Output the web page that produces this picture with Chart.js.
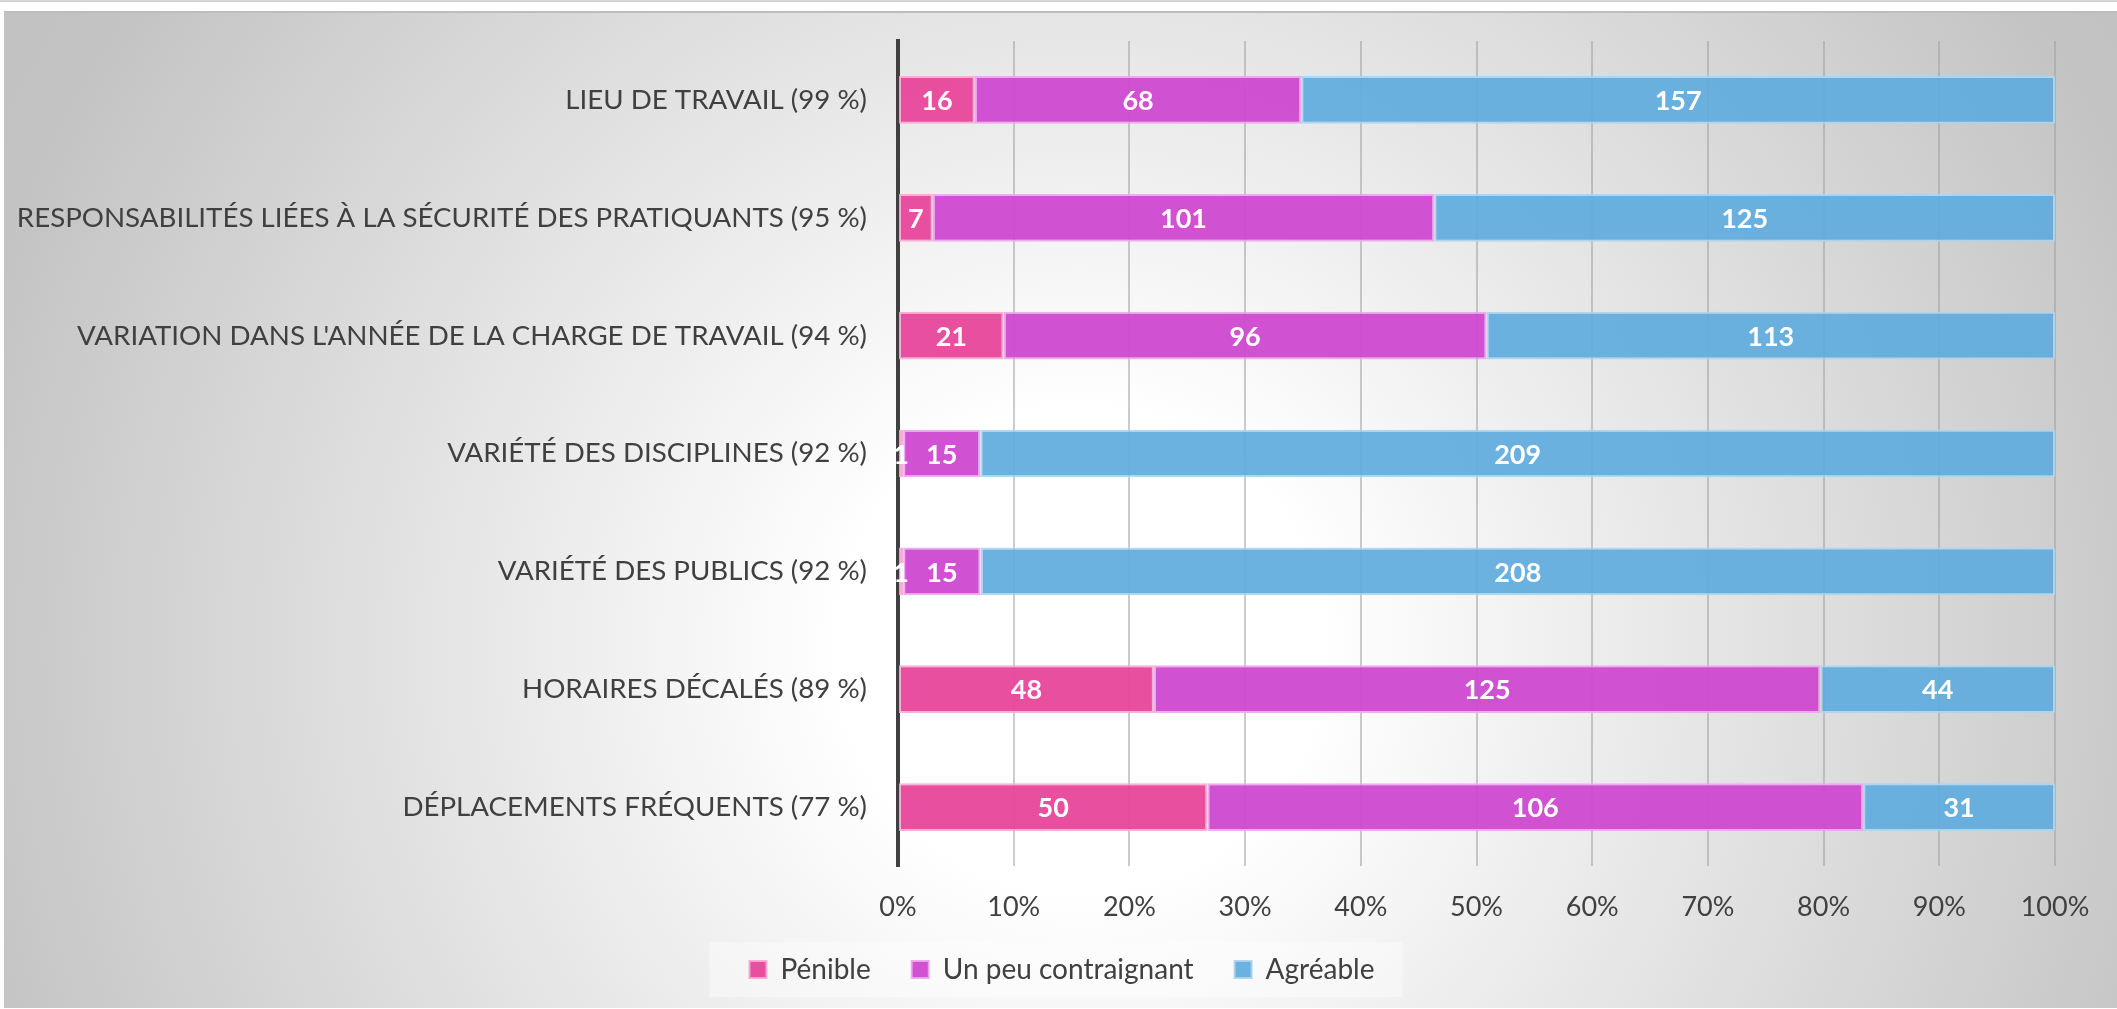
<!DOCTYPE html>
<html>
<head>
<meta charset="utf-8">
<script src="https://cdn.jsdelivr.net/npm/chart.js@4.4.0/dist/chart.umd.min.js"></script>
<style>
  html, body { margin: 0; padding: 0; background: #fff; overflow: hidden; }
</style>
</head>
<body>
<canvas id="chart" width="2117" height="1009"></canvas>
<script>
const CATEGORIES = [
  'LIEU DE TRAVAIL (99 %)',
  'RESPONSABILITÉS LIÉES À LA SÉCURITÉ DES PRATIQUANTS (95 %)',
  "VARIATION DANS L'ANNÉE DE LA CHARGE DE TRAVAIL (94 %)",
  'VARIÉTÉ DES DISCIPLINES (92 %)',
  'VARIÉTÉ DES PUBLICS (92 %)',
  'HORAIRES DÉCALÉS (89 %)',
  'DÉPLACEMENTS FRÉQUENTS (77 %)'
];
const SERIES_NAMES = ['Pénible', 'Un peu contraignant', 'Agréable'];
const PENIBLE      = [16, 7, 21, 1, 1, 48, 50];
const CONTRAIGNANT = [68, 101, 96, 15, 15, 125, 106];
const AGREABLE     = [157, 125, 113, 209, 208, 44, 31];

const FILLS   = ['rgba(232,72,155,0.96)', 'rgba(206,74,208,0.96)', 'rgba(96,172,222,0.93)'];
const BORDERS = ['rgba(246,170,210,0.9)', 'rgba(234,166,236,0.9)', 'rgba(172,212,240,0.9)'];
const FONT = 'Lato';
const TEXT = '#404040';

// 100 % stack: each segment as share of the row total
const totals = CATEGORIES.map((_, i) => PENIBLE[i] + CONTRAIGNANT[i] + AGREABLE[i]);
const pct = arr => arr.map((v, i) => v / totals[i] * 100);

const datasets = [PENIBLE, CONTRAIGNANT, AGREABLE].map((counts, k) => ({
  label: SERIES_NAMES[k],
  data: pct(counts),
  counts,
  backgroundColor: FILLS[k],
  borderColor: BORDERS[k],
  borderWidth: 2,
  borderSkipped: false,
  categoryPercentage: 1,
  barPercentage: 0.405
}));

const backdrop = {
  id: 'backdrop',
  beforeDraw(chart) {
    const { ctx, width: W, height: H } = chart;
    ctx.save();
    ctx.fillStyle = '#fff';
    ctx.fillRect(0, 0, W, H);
    ctx.fillStyle = '#d4d4d4';
    ctx.fillRect(0, 0, W, 2);
    const g = ctx.createRadialGradient(1080, 650, 0, 1080, 650, 1200);
    g.addColorStop(0, '#ffffff');
    g.addColorStop(0.2, '#ffffff');
    g.addColorStop(0.95, '#c4c4c4');
    g.addColorStop(1, '#c2c2c2');
    ctx.fillStyle = g;
    ctx.fillRect(4, 11, W - 4, 997);
    ctx.fillStyle = '#bdbdbd';
    ctx.fillRect(4, 11, W - 4, 2);
    // soft panel behind the legend
    const hb = chart.legend && chart.legend.legendHitBoxes;
    if (hb && hb.length) {
      const x0 = hb[0].left - 40;
      const x1 = hb[hb.length - 1].left + hb[hb.length - 1].width + 28;
      ctx.fillStyle = 'rgba(255,255,255,0.4)';
      ctx.fillRect(x0, 942, x1 - x0, 55);
    }
    ctx.restore();
  }
};

const legendPlace = {
  id: 'legendPlace',
  afterLayout(chart) {
    const lg = chart.legend;
    const h = lg.height;
    lg.top = 914.5;
    lg.bottom = lg.top + h;
    lg.left = 3;
    lg.right = 2121;
  }
};

const countLabels = {
  id: 'countLabels',
  afterDatasetsDraw(chart) {
    const ctx = chart.ctx;
    ctx.save();
    ctx.font = `bold 27px ${FONT}`;
    ctx.fillStyle = '#ffffff';
    ctx.textAlign = 'center';
    ctx.textBaseline = 'middle';
    chart.data.datasets.forEach((ds, di) => {
      chart.getDatasetMeta(di).data.forEach((bar, i) => {
        ctx.fillText(String(ds.counts[i]), (bar.x + bar.base) / 2, bar.y + 1.5);
      });
    });
    ctx.restore();
  }
};

new Chart(document.getElementById('chart'), {
  type: 'bar',
  data: { labels: CATEGORIES, datasets },
  plugins: [backdrop, legendPlace, countLabels],
  options: {
    indexAxis: 'y',
    responsive: false,
    animation: false,
    layout: { padding: { top: 41, right: 62, left: 0, bottom: 0 } },
    plugins: {
      tooltip: { enabled: false },
      legend: {
        position: 'bottom',
        labels: {
          font: { family: FONT, size: 28 },
          color: TEXT,
          boxWidth: 17,
          boxHeight: 17,
          padding: 41
        }
      }
    },
    scales: {
      x: {
        stacked: true,
        min: 0,
        max: 100,
        ticks: {
          stepSize: 10,
          callback: v => v + '%',
          font: { family: FONT, size: 27 },
          color: TEXT,
          padding: 25
        },
        grid: { color: 'rgba(160,160,160,0.55)', lineWidth: 2, drawTicks: false },
        border: { display: false },
        afterFit: s => { s.height = 1009 - 866 - s.chart.legend.height; }
      },
      y: {
        stacked: true,
        ticks: {
          font: { family: FONT, size: 27.7 },
          color: TEXT,
          padding: 31
        },
        grid: { display: false, drawTicks: false },
        border: { color: '#404040', width: 4 },
        afterFit: s => { s.width = 898; s.paddingTop = 0; s.paddingBottom = 0; }
      }
    }
  }
});
</script>
</body>
</html>
